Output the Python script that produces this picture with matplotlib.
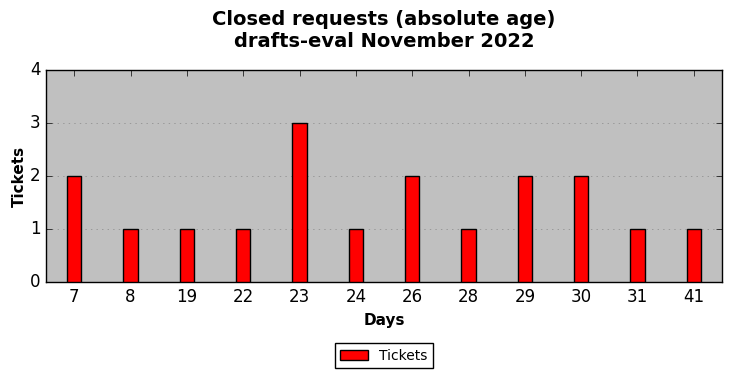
import numpy as np
import matplotlib
matplotlib.use('Agg')
import matplotlib.pyplot as plt

plt.style.use('classic')

days = ['7', '8', '19', '22', '23', '24', '26', '28', '29', '30', '31', '41']
tickets = [2, 1, 1, 1, 3, 1, 2, 1, 2, 2, 1, 1]

fig = plt.figure(figsize=(7.32, 3.78), dpi=100)
ax = fig.add_axes([46 / 732, 1 - 282 / 378, 676 / 732, 212 / 378])
x = np.arange(len(days))
ax.bar(x, tickets, width=0.25, color='red', edgecolor='black', align='center', label='Tickets', zorder=3)
ax.set_facecolor('#c0c0c0')
ax.set_xlim(-0.5, len(days) - 0.5)
ax.set_ylim(0, 4)
ax.set_xticks(x)
ax.set_xticklabels(days)
ax.set_yticks([0, 1, 2, 3, 4])
ax.yaxis.grid(True, linestyle=':', color='#888888', zorder=0)
ax.xaxis.grid(False)
ax.set_axisbelow(True)
ax.tick_params(labelsize=12)
ax.set_xlabel('Days', fontweight='bold', fontsize=11)
ax.set_ylabel('Tickets', fontweight='bold', fontsize=11, labelpad=2)
ax.set_title('Closed requests (absolute age)\ndrafts-eval November 2022', fontweight='bold', fontsize=14, y=1.078)
ax.legend(loc='upper center', bbox_to_anchor=(0.5, -0.256), fontsize=10, ncol=1)

plt.savefig('out.png', dpi=100)
